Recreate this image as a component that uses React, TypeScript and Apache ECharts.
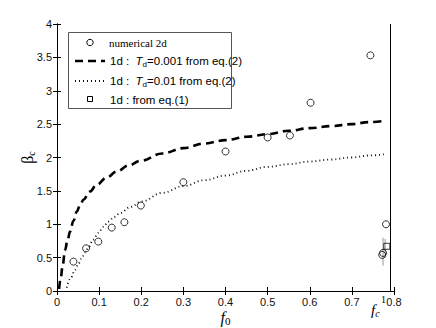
import React, { useEffect, useRef } from "react";
import * as echarts from "echarts";

// numerical 2d (circles)
const numX = [0.039, 0.069, 0.098, 0.13, 0.16, 0.199, 0.30, 0.40, 0.50, 0.553, 0.602, 0.744, 0.781, 0.774, 0.772];
const numY = [0.44, 0.64, 0.74, 0.95, 1.03, 1.28, 1.63, 2.09, 2.30, 2.33, 2.82, 3.53, 1.0, 0.57, 0.54];

// 1d : Td = 0.001 from eq.(2) (dashed)
const td001X = [0.005, 0.009, 0.013, 0.019, 0.025, 0.031, 0.039, 0.047, 0.055, 0.063, 0.078, 0.094, 0.118, 0.142, 0.17, 0.198, 0.25, 0.30, 0.35, 0.40, 0.45, 0.50, 0.55, 0.60, 0.65, 0.70, 0.74, 0.78];
const td001Y = [0.03, 0.2, 0.36, 0.61, 0.76, 0.89, 1.05, 1.19, 1.29, 1.37, 1.49, 1.59, 1.70, 1.79, 1.88, 1.95, 2.06, 2.14, 2.21, 2.26, 2.31, 2.35, 2.40, 2.44, 2.47, 2.50, 2.53, 2.55];

// 1d : Td = 0.01 from eq.(2) (dotted)
const td01X = [0.023, 0.033, 0.043, 0.051, 0.059, 0.067, 0.075, 0.086, 0.098, 0.11, 0.122, 0.136, 0.15, 0.175, 0.20, 0.25, 0.30, 0.35, 0.40, 0.45, 0.50, 0.55, 0.60, 0.65, 0.70, 0.74, 0.78];
const td01Y = [0.05, 0.2, 0.32, 0.41, 0.5, 0.58, 0.66, 0.77, 0.87, 0.96, 1.04, 1.11, 1.17, 1.26, 1.34, 1.47, 1.57, 1.66, 1.73, 1.80, 1.86, 1.90, 1.94, 1.97, 2.0, 2.03, 2.05];

// 1d : from eq.(1) (squares)
const eq1X = [0.783];
const eq1Y = [0.67];

// error bars [x, low, high]
const errX = [0.774, 0.779];
const errLo = [0.38, 0.5];
const errHi = [0.8, 0.78];

const FC = 0.788;

const xTicks = { min: 0, max: 0.8, interval: 0.1 };
const yTicks = { min: 0, max: 4, interval: 0.5 };

const zip = (a: number[], b: number[]) => a.map((v, i) => [v, b[i]]);

export default function App() {
  const ref = useRef<HTMLDivElement>(null);
  useEffect(() => {
    if (!ref.current) return;
    const chart = echarts.init(ref.current, undefined, { renderer: "svg" });
    const sans = "Liberation Sans";
    const serif = "Liberation Serif";
    const labelStyle = { fontFamily: sans, fontSize: 11, color: "#111" };
    const axisCommon = {
      axisLine: { show: true, lineStyle: { color: "#000", width: 1 } },
      axisTick: { show: true, inside: true, length: 4, lineStyle: { color: "#000" } },
      splitLine: { show: false },
    };
    const legendRich = {
      a: { fontFamily: sans, fontSize: 11.5, lineHeight: 14, fill: "#000" },
      t: { fontFamily: sans, fontSize: 11.5, fontStyle: "italic", lineHeight: 14, fill: "#000" },
      s: { fontFamily: sans, fontSize: 8, lineHeight: 6, verticalAlign: "bottom", fill: "#000" },
    };
    const option: any = {
      animation: false,
      backgroundColor: "#fff",
      grid: { left: 57, right: 42, top: 24, bottom: 37, containLabel: false, outerBoundsMode: "none" },
      xAxis: [
        {
          type: "value",
          ...xTicks,
          position: "bottom",
          ...axisCommon,
          axisLabel: { ...labelStyle, margin: 5, formatter: (v: number) => (v === 0 ? "0" : String(+v.toFixed(1))) },
          name: "{f|f}{s|0}",
          nameLocation: "middle",
          nameGap: 17,
          nameMoveOverlap: false,
          nameTextStyle: {
            rich: {
              f: { fontFamily: serif, fontSize: 16, fontStyle: "italic", lineHeight: 18, color: "#000" },
              s: { fontFamily: serif, fontSize: 11, lineHeight: 8, verticalAlign: "bottom", color: "#000" },
            },
          },
        },
        {
          type: "value",
          ...xTicks,
          position: "top",
          ...axisCommon,
          axisLabel: { show: false },
        },
      ],
      yAxis: [
        {
          type: "value",
          ...yTicks,
          position: "left",
          ...axisCommon,
          axisLabel: { ...labelStyle, margin: 5 },
          name: "{b|β}{s|c}",
          nameLocation: "middle",
          nameRotate: 90,
          nameGap: 21,
          nameMoveOverlap: false,
          nameTextStyle: {
            rich: {
              b: { fontFamily: serif, fontSize: 16, lineHeight: 18, color: "#000" },
              s: { fontFamily: serif, fontSize: 10, lineHeight: 8, verticalAlign: "bottom", color: "#000" },
            },
          },
        },
        {
          type: "value",
          ...yTicks,
          position: "right",
          ...axisCommon,
          axisLabel: { show: false },
        },
      ],
      series: [
        {
          name: "1d : Td=0.001 from eq.(2)",
          type: "line",
          data: zip(td001X, td001Y),
          showSymbol: false,
          smooth: 0.4,
          smoothMonotone: "x",
          lineStyle: { color: "#000", width: 2.6, type: [8, 5] },
          z: 3,
        },
        {
          name: "1d : Td=0.01 from eq.(2)",
          type: "line",
          data: zip(td01X, td01Y),
          showSymbol: false,
          smooth: 0.4,
          smoothMonotone: "x",
          lineStyle: { color: "#111", width: 1.8, type: [1, 3] },
          z: 3,
        },
        {
          name: "error",
          type: "custom",
          data: errX.map((x, i) => [x, errLo[i], errHi[i]]),
          encode: { x: 0, y: [1, 2] },
          renderItem: (params: any, api: any) => {
            const x = api.value(0);
            const lo = api.coord([x, api.value(1)]);
            const hi = api.coord([x, api.value(2)]);
            return {
              type: "line",
              shape: { x1: lo[0], y1: lo[1], x2: hi[0], y2: hi[1] },
              style: { stroke: "#999", lineWidth: 1 },
            };
          },
          z: 2,
        },
        {
          name: "1d : from eq.(1)",
          type: "scatter",
          data: zip(eq1X, eq1Y),
          symbol: "rect",
          symbolSize: 6,
          itemStyle: { color: "rgba(255,255,255,0)", borderColor: "#000", borderWidth: 1 },
          markLine: {
            silent: true,
            symbol: "none",
            label: { show: false },
            lineStyle: { color: "#000", width: 1, type: "solid" },
            data: [{ xAxis: FC }],
          },
          z: 4,
        },
        {
          name: "numerical 2d",
          type: "scatter",
          data: zip(numX, numY),
          symbol: "circle",
          symbolSize: 7,
          itemStyle: { color: "rgba(255,255,255,0)", borderColor: "#000", borderWidth: 1 },
          z: 5,
        },
      ],
      graphic: [
        { type: "rect", z: 10, shape: { x: 68.5, y: 32.5, width: 163, height: 76 }, style: { fill: "#fff", stroke: "#555", lineWidth: 1 } },
        { type: "circle", z: 11, shape: { cx: 90, cy: 42.5, r: 3.2 }, style: { fill: "none", stroke: "#000", lineWidth: 1 } },
        { type: "text", z: 11, x: 109, y: 42.5, style: { text: "numerical 2d", font: '11px "Liberation Serif"', fill: "#000", verticalAlign: "middle" } },
        { type: "line", z: 11, shape: { x1: 75, y1: 61, x2: 105, y2: 61 }, style: { stroke: "#000", lineWidth: 2.6, lineDash: [8, 5] } },
        { type: "text", z: 11, x: 110, y: 61, style: { text: "{a|1d :  }{t|T}{s|d}{a|=0.001 from eq.(2)}", rich: legendRich, verticalAlign: "middle" } },
        { type: "line", z: 11, shape: { x1: 75, y1: 81, x2: 105, y2: 81 }, style: { stroke: "#111", lineWidth: 1.8, lineDash: [1, 3] } },
        { type: "text", z: 11, x: 110, y: 81, style: { text: "{a|1d :  }{t|T}{s|d}{a|=0.01 from eq.(2)}", rich: legendRich, verticalAlign: "middle" } },
        { type: "rect", z: 11, shape: { x: 87.5, y: 96.5, width: 5, height: 5 }, style: { fill: "none", stroke: "#000", lineWidth: 1 } },
        { type: "text", z: 11, x: 110, y: 99.5, style: { text: "1d : from eq.(1)", font: '11.5px "Liberation Sans"', fill: "#000", verticalAlign: "middle" } },
        {
          type: "text", z: 11, x: 371, y: 310,
          style: {
            text: "{f|f}{s|c}",
            rich: {
              f: { fontFamily: serif, fontSize: 15, fontStyle: "italic", lineHeight: 16, fill: "#000" },
              s: { fontFamily: serif, fontSize: 10, fontStyle: "italic", lineHeight: 6, verticalAlign: "bottom", fill: "#000" },
            },
            verticalAlign: "middle",
          },
        },
        { type: "text", z: 11, x: 381, y: 299, style: { text: "1", font: '10px "Liberation Serif"', fill: "#000", verticalAlign: "middle" } },
      ],
    };
    chart.setOption(option);
    return () => chart.dispose();
  }, []);
  return (
    <div
      ref={ref}
      style={{ position: "fixed", left: 0, top: 0, width: 436, height: 328, background: "#fff" }}
    />
  );
}
